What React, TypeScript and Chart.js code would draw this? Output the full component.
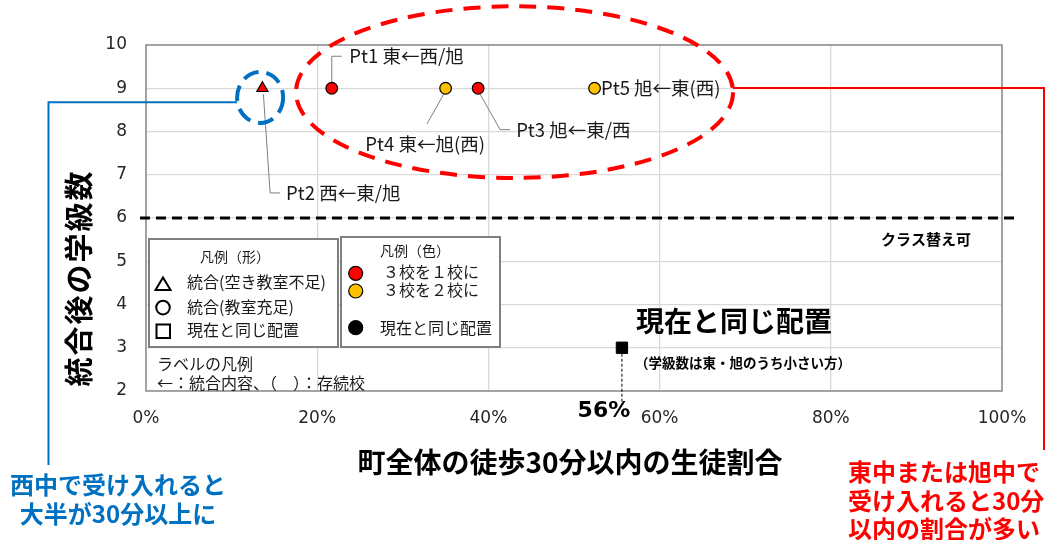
import React, { useEffect, useRef } from 'react';
import { Chart, registerables } from 'chart.js';

Chart.register(...registerables);

// ---------- data ----------
const pointLabels = ['Pt1 東←西/旭', 'Pt2 西←東/旭', 'Pt3 旭←東/西', 'Pt4 東←旭(西)', 'Pt5 旭←東(西)'];
const walkShare = [21.7, 13.6, 38.8, 35.0, 52.4]; // % of students within 30 min walk
const classCount = [9, 9, 9, 9, 9]; // classes after merger
const mergeType = ['3to1', '3to1', '3to1', '3to2', '3to2'];
const shapeType = ['circle', 'triangle', 'circle', 'circle', 'circle'];
const currentShare = [55.6];
const currentClass = [3];
const currentShareLabel = '56%';
const thresholdClasses = 6;
const xMin = 0;
const xMax = 100;
const xStep = 20;
const yMin = 2;
const yMax = 10;
const yStep = 1;

// ---------- styles / layout ----------
const JP = '"Noto Sans CJK JP", "Noto Sans CJK SC", sans-serif';
const LAT = '"DejaVu Sans", sans-serif';
const RED = '#FF0000';
const YEL = '#FFC000';
const BLUE = '#0070C0';
const mergeColor: Record<string, string> = { '3to1': RED, '3to2': YEL };

// leader lines & label offsets relative to each point (pixels)
const labelLayout = [
  { leader: [[0, -6], [0, -32], [10, -32]], tx: 17.6, ty: -32 },
  { leader: [[1, 6], [7.7, 104.7], [17.7, 104.7]], tx: 23.7, ty: 104.7 },
  { leader: [[2, 6], [22, 41.4], [32, 41.4]], tx: 38, ty: 41.4 },
  { leader: [[-2, 6], [-18.6, 35.7]], tx: -80.3, ty: 55.7 },
  { leader: [], tx: 6.4, ty: 0 },
];

function txt(ctx: CanvasRenderingContext2D, s: string, x: number, y: number, font: string, color = '#000', align: CanvasTextAlign = 'left') {
  ctx.font = font;
  ctx.fillStyle = color;
  ctx.textAlign = align;
  ctx.textBaseline = 'middle';
  ctx.fillText(s, x, y);
}

function poly(ctx: CanvasRenderingContext2D, pts: number[][]) {
  ctx.beginPath();
  pts.forEach(([px, py], k) => (k ? ctx.lineTo(px, py) : ctx.moveTo(px, py)));
  ctx.stroke();
}

function dot(ctx: CanvasRenderingContext2D, cx: number, cy: number, r: number, fill: string) {
  ctx.beginPath();
  ctx.arc(cx, cy, r, 0, Math.PI * 2);
  ctx.fillStyle = fill;
  ctx.fill();
  ctx.lineWidth = 1.2;
  ctx.strokeStyle = '#000';
  ctx.stroke();
}

const overlay = {
  id: 'overlay',
  beforeDatasetsDraw(chart: any) {
    const { ctx, chartArea: ca, scales } = chart;
    const x = scales.x, y = scales.y;
    ctx.save();
    // plot frame
    ctx.strokeStyle = '#8C8C8C';
    ctx.lineWidth = 1.5;
    ctx.strokeRect(ca.left, ca.top, ca.right - ca.left, ca.bottom - ca.top);
    // threshold line
    const ty = y.getPixelForValue(thresholdClasses);
    ctx.setLineDash([10, 6]);
    ctx.lineWidth = 3;
    ctx.strokeStyle = '#000';
    poly(ctx, [[ca.left - 6, ty], [ca.right + 16, ty]]);
    ctx.setLineDash([]);
    // leader lines
    ctx.strokeStyle = '#7F7F7F';
    ctx.lineWidth = 1;
    pointLabels.forEach((_, i) => {
      const L = labelLayout[i];
      if (!L.leader.length) return;
      const px = x.getPixelForValue(walkShare[i]);
      const py = y.getPixelForValue(classCount[i]);
      poly(ctx, L.leader.map(([dx, dy]) => [px + dx, py + dy]));
    });
    // dashed drop line from current square
    const sx = x.getPixelForValue(currentShare[0]);
    const sy = y.getPixelForValue(currentClass[0]);
    ctx.setLineDash([3, 2]);
    ctx.strokeStyle = '#000';
    poly(ctx, [[sx, sy + 6], [sx, ca.bottom + 14]]);
    ctx.restore();
  },
  afterDraw(chart: any) {
    const { ctx, chartArea: ca, scales } = chart;
    const x = scales.x, y = scales.y;
    ctx.save();
    // point labels
    pointLabels.forEach((lab, i) => {
      const L = labelLayout[i];
      const px = x.getPixelForValue(walkShare[i]);
      const py = y.getPixelForValue(classCount[i]);
      txt(ctx, lab, px + L.tx, py + L.ty, `18.5px ${JP}`, '#1a1a1a');
    });

    // red ellipse around east/asahi group
    const ecx = x.getPixelForValue(43.05), ecy = y.getPixelForValue(8.91);
    ctx.setLineDash([17, 11]);
    ctx.lineWidth = 4;
    ctx.strokeStyle = RED;
    ctx.beginPath();
    ctx.ellipse(ecx, ecy, 218.5, 85.8, 0, 0, Math.PI * 2);
    ctx.stroke();
    // blue circle around Pt2
    const p2x = x.getPixelForValue(walkShare[1]), p2y = y.getPixelForValue(classCount[1]);
    const bcx = p2x - 2.3, bcy = p2y + 9.2;
    ctx.setLineDash([16, 8]);
    ctx.strokeStyle = BLUE;
    ctx.beginPath();
    ctx.ellipse(bcx, bcy, 23, 25.5, 0, 0, Math.PI * 2);
    ctx.stroke();
    ctx.setLineDash([]);
    // connectors
    ctx.lineWidth = 2;
    ctx.strokeStyle = BLUE;
    poly(ctx, [[bcx - 23, bcy + 4.8], [48.5, bcy + 4.8], [48.5, 465]]);
    ctx.strokeStyle = RED;
    poly(ctx, [[ecx + 218.5, ecy - 4.2], [1044, ecy - 4.2], [1044, 450]]);
    // callout texts
    txt(ctx, '西中で受け入れると', 118, 485, `bold 24px ${JP}`, BLUE, 'center');
    txt(ctx, '大半が30分以上に', 118, 514, `bold 24px ${JP}`, BLUE, 'center');
    txt(ctx, '東中または旭中で', 848, 472, `bold 24px ${JP}`, RED);
    txt(ctx, '受け入れると30分', 848, 501, `bold 24px ${JP}`, RED);
    txt(ctx, '以内の割合が多い', 848, 529, `bold 24px ${JP}`, RED);

    // axis titles
    txt(ctx, '町全体の徒歩30分以内の生徒割合', 570, 462, `bold 28px ${JP}`, '#000', 'center');
    ctx.save();
    ctx.translate(79, 278);
    ctx.rotate(-Math.PI / 2);
    (ctx as any).letterSpacing = '2px';
    txt(ctx, '統合後の学級数', 0, 0, `bold 29px ${JP}`, '#000', 'center');
    ctx.restore();

    // threshold note
    const ty = y.getPixelForValue(thresholdClasses);
    txt(ctx, 'クラス替え可', 926, ty + 21, `bold 15px ${JP}`, '#000', 'center');

    // current arrangement notes
    const sx = x.getPixelForValue(currentShare[0]);
    const sy = y.getPixelForValue(currentClass[0]);
    txt(ctx, '現在と同じ配置', sx + 14, sy - 26, `bold 28px ${JP}`, '#000');
    txt(ctx, '（学級数は東・旭のうち小さい方）', sx + 13, sy + 15, `bold 13.5px ${JP}`, '#000');
    txt(ctx, currentShareLabel, sx - 18, ca.bottom + 20, `bold 22px ${LAT}`, '#000', 'center');

    // legend boxes
    ctx.fillStyle = '#fff';
    ctx.strokeStyle = '#7F7F7F';
    ctx.lineWidth = 2;
    ctx.fillRect(149, 239, 189, 108);
    ctx.strokeRect(149, 239, 189, 108);
    ctx.fillRect(341, 237, 159, 110);
    ctx.strokeRect(341, 237, 159, 110);

    // legend box 1 (shapes)
    txt(ctx, '凡例（形）', 235, 257, `14px ${JP}`, '#1a1a1a', 'center');
    ctx.strokeStyle = '#000';
    ctx.lineWidth = 2;
    ctx.beginPath();
    ctx.moveTo(163, 277.5);
    ctx.lineTo(170.5, 290);
    ctx.lineTo(155.5, 290);
    ctx.closePath();
    ctx.stroke();
    txt(ctx, '統合(空き教室不足)', 187, 282, `16px ${JP}`, '#1a1a1a');
    ctx.beginPath();
    ctx.arc(163, 307.6, 6.8, 0, Math.PI * 2);
    ctx.stroke();
    txt(ctx, '統合(教室充足)', 187, 307, `16px ${JP}`, '#1a1a1a');
    ctx.strokeRect(156.5, 324.5, 13.5, 13.5);
    txt(ctx, '現在と同じ配置', 187, 329.5, `16px ${JP}`, '#1a1a1a');

    // legend box 2 (colours)
    txt(ctx, '凡例（色）', 415, 251, `14px ${JP}`, '#1a1a1a', 'center');
    dot(ctx, 355.7, 273.3, 7, RED);
    txt(ctx, '３校を１校に', 383, 272.3, `16px ${JP}`, '#1a1a1a');
    dot(ctx, 355.7, 291, 7, YEL);
    txt(ctx, '３校を２校に', 383, 289.5, `16px ${JP}`, '#1a1a1a');
    dot(ctx, 355.7, 327.7, 7, '#000');
    txt(ctx, '現在と同じ配置', 380, 328.3, `16px ${JP}`, '#1a1a1a');

    // label legend
    txt(ctx, 'ラベルの凡例', 157, 364, `16px ${JP}`, '#1a1a1a');
    txt(ctx, '←：統合内容、（　）：存続校', 157, 382.7, `16px ${JP}`, '#1a1a1a');
    ctx.restore();
  },
};

export default function App() {
  const ref = useRef<HTMLCanvasElement>(null);
  useEffect(() => {
    const datasets: any[] = [
      {
        label: '統合案',
        data: walkShare.map((v, i) => ({ x: v, y: classCount[i] })),
        pointStyle: shapeType,
        pointRadius: shapeType.map((s) => (s === 'triangle' ? 6.5 : 5.8)),
        backgroundColor: mergeType.map((m) => mergeColor[m]),
        borderColor: '#000',
        borderWidth: 1.2,
      },
      {
        label: '現在と同じ配置',
        data: currentShare.map((v, i) => ({ x: v, y: currentClass[i] })),
        pointStyle: 'rect',
        pointRadius: 8,
        backgroundColor: '#000',
        borderColor: '#000',
        borderWidth: 1,
      },
    ];
    const chart = new Chart(ref.current as HTMLCanvasElement, {
      type: 'scatter',
      data: { datasets },
      options: {
        responsive: false,
        devicePixelRatio: 1,
        animation: false,
        layout: { padding: { left: 106, right: 52, top: 45, bottom: 109 } },
        plugins: { legend: { display: false }, tooltip: { enabled: false } },
        scales: {
          x: {
            type: 'linear',
            min: xMin,
            max: xMax,
            afterFit: (s: any) => { s.height = 40; },
            ticks: {
              stepSize: xStep,
              padding: 17,
              color: '#262626',
              font: { family: LAT, size: 17 },
              callback: (v: any) => `${Math.round(Number(v))}%`,
            },
            grid: { color: '#D9D9D9', lineWidth: 1.3, drawTicks: false },
            border: { display: false },
          },
          y: {
            type: 'linear',
            min: yMin,
            max: yMax,
            afterFit: (s: any) => { s.width = 40; },
            ticks: {
              stepSize: yStep,
              padding: 19,
              color: '#262626',
              font: { family: LAT, size: 17 },
            },
            grid: { color: '#D9D9D9', lineWidth: 1.3, drawTicks: false },
            border: { display: false },
          },
        },
      } as any,
      plugins: [overlay],
    });
    return () => chart.destroy();
  }, []);
  return (
    <div style={{ position: 'fixed', left: 0, top: 0, width: 1054, height: 540, background: '#fff' }}>
      <canvas ref={ref} width={1054} height={540} style={{ display: 'block', width: 1054, height: 540 }} />
    </div>
  );
}
